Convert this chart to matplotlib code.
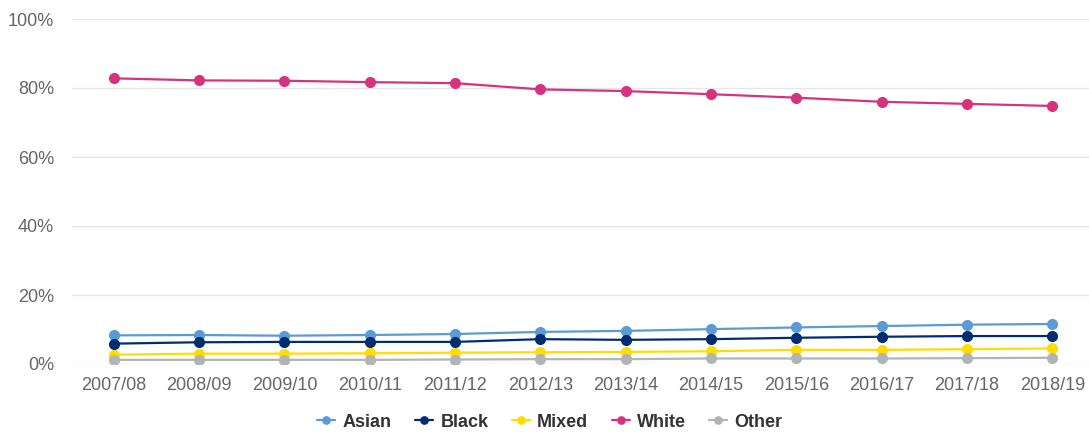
import matplotlib
matplotlib.use('Agg')
import matplotlib.pyplot as plt
from matplotlib.ticker import FuncFormatter

plt.rcParams['font.family'] = ['Liberation Sans', 'DejaVu Sans']

years = ['2007/08', '2008/09', '2009/10', '2010/11', '2011/12', '2012/13',
         '2013/14', '2014/15', '2015/16', '2016/17', '2017/18', '2018/19']

asian = [8.3, 8.4, 8.2, 8.4, 8.7, 9.3, 9.6, 10.1, 10.6, 11.0, 11.4, 11.6]
black = [5.9, 6.3, 6.4, 6.4, 6.4, 7.2, 7.0, 7.2, 7.6, 7.9, 8.1, 8.1]
mixed = [2.7, 3.0, 3.0, 3.1, 3.3, 3.4, 3.5, 3.7, 4.1, 4.1, 4.3, 4.5]
white = [82.8, 82.2, 82.1, 81.7, 81.4, 79.6, 79.1, 78.2, 77.2, 76.0, 75.4, 74.8]
other = [1.2, 1.2, 1.2, 1.2, 1.3, 1.4, 1.4, 1.6, 1.6, 1.6, 1.7, 1.8]

series = [
    ('Asian', asian, '#5b9bd5'),
    ('Black', black, '#002d72'),
    ('Mixed', mixed, '#ffdd00'),
    ('White', white, '#d6337f'),
    ('Other', other, '#b1b4b6'),
]

fig = plt.figure(figsize=(10.89, 4.34), dpi=100)
ax = fig.add_axes([72 / 1089, 1 - 364 / 434, 1 - 72 / 1089, 345 / 434])

x = range(len(years))
for name, vals, color in series:
    ax.plot(x, vals, color=color, lw=1.6, marker='o', ms=7, label=name,
            solid_capstyle='round', zorder=3)

ax.set_xlim(-0.49, 11.43)
ax.set_ylim(0, 100)
ax.set_yticks([0, 20, 40, 60, 80, 100])
ax.yaxis.set_major_formatter(FuncFormatter(lambda v, p: f'{v:.0f}%'))
ax.set_xticks(list(x))
ax.set_xticklabels(years)

ax.grid(axis='y', color='#e6e6e6', lw=1, zorder=0)
for s in ax.spines.values():
    s.set_visible(False)
ax.tick_params(axis='both', length=0, labelsize=13, colors='#666666')
ax.tick_params(axis='x', pad=9)
ax.tick_params(axis='y', pad=13)

leg = fig.legend(loc='center', bbox_to_anchor=(0.505, 0.027), ncol=5,
                 frameon=False, handlelength=1.0, handletextpad=0.4,
                 columnspacing=1.3, prop={'size': 13, 'weight': 'bold'},
                 markerscale=0.75)
for t in leg.get_texts():
    t.set_color('#333333')

fig.savefig('out.png', dpi=100)
